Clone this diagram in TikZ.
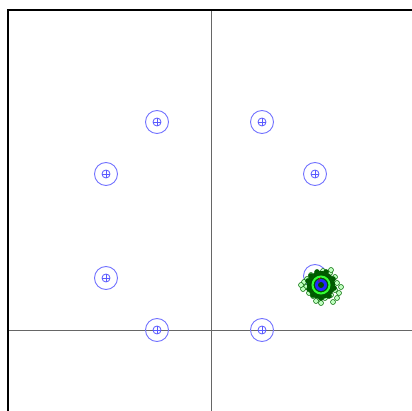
\documentclass[tikz,border=0pt]{standalone}
\begin{document}
\begin{tikzpicture}[x=1pt,y=-1pt,
  ring/.style={circle,draw=blue!55!white,line width=0.9pt,minimum size=23pt,inner sep=0pt},
  core/.style={circle,draw=blue!65!white,line width=0.8pt,minimum size=8pt,inner sep=0pt},
  speck/.style={circle,draw=green!40!black,fill=green!25!white,line width=0.5pt,minimum size=5pt,inner sep=0pt}]
\useasboundingbox (0,0) rectangle (412,411);
\fill[white] (0,0) rectangle (412,411);
\coordinate (tl) at (8,10);
\coordinate (tr) at (412,10);
\coordinate (bl) at (8,411);
\coordinate (vt) at (211,10);
\coordinate (vb) at (211,411);
\coordinate (hl) at (8,330);
\coordinate (hr) at (412,330);
\draw[gray!80!black,line width=0.9pt] (vt) -- (vb);
\draw[gray!80!black,line width=0.9pt] (hl) -- (hr);
\draw[black,line width=1.8pt] (bl) -- (tl) -- (tr);
\foreach \n/\px/\py in {a/157/122,b/262/122,c/106/174,d/315/174,e/106/278,f/157/330,g/262/330}{
  \node[ring] (\n) at (\px,\py) {};
  \node[core] (\n c) at (\px,\py) {};
  \draw[blue!65!white,line width=0.7pt] (\px-4,\py) -- (\px+4,\py) (\px,\py-4) -- (\px,\py+4);
}
% cluster
\coordinate (h) at (321,285);
\node[ring] (hring) at (315,276) {};
\foreach \dx/\dy in {-14/-6,-15/2,-12/8,-8/11,-3/13,4/13,10/10,14/5,16/-2,14/-8,9/-12,2/-14,-10/-10,-17/-3,-18/4,18/8,16/13,12/17,0/18,-5/16,20/2,-20/0,10/-15}{
  \node[speck] at (321+\dx,285+\dy) {};
}
\fill[green!35!black] (h) circle (14);
\foreach \dx/\dy in {-13/-4,-12/4,-8/10,0/13,8/11,13/3,12/-6,5/-13,-4/-13,-10/-9}{
  \node[speck,fill=green!35!black] at (321+\dx,285+\dy) {};
}
\node[circle,draw=green!80!white,line width=2pt,minimum size=17pt,inner sep=0pt] (hr1) at (h) {};
\node[circle,fill=blue!85!white,minimum size=12pt,inner sep=0pt] (hr2) at (h) {};
\node[circle,fill=green!30!black,minimum size=6pt,inner sep=0pt] (hr3) at (h) {};
\draw[red!80!black,line width=0.6pt] (319,282) arc (150:250:3);
\end{tikzpicture}
\end{document}
